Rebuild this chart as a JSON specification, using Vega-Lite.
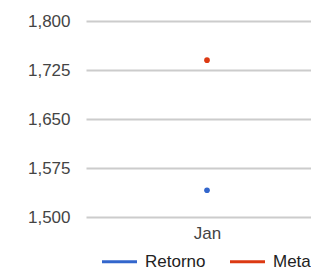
{
  "$schema": "https://vega.github.io/schema/vega-lite/v6.json",
  "autosize": {"type": "none"},
  "padding": {"left": 86, "top": 21, "right": 0, "bottom": 53},
  "width": 225,
  "height": 196,
  "background": "white",
  "config": {
    "view": {"stroke": null},
    "font": "Liberation Sans",
    "axis": {"labelFont": "Liberation Sans", "labelFontSize": 17, "labelColor": "#444444"}
  },
  "data": {
    "values": [
      {"month": "Jan", "series": "Retorno", "value": 1541},
      {"month": "Jan", "series": "Meta", "value": 1740}
    ]
  },
  "mark": {"type": "point", "filled": true, "size": 32, "opacity": 1},
  "encoding": {
    "x": {
      "field": "month", "type": "ordinal",
      "scale": {"type": "point", "range": [0, 242]},
      "axis": {"title": null, "domain": false, "ticks": false, "grid": false, "labelAngle": 0, "labelPadding": 8}
    },
    "y": {
      "field": "value", "type": "quantitative",
      "scale": {"domain": [1500, 1800], "nice": false, "zero": false},
      "axis": {"title": null, "domain": false, "ticks": false, "values": [1500, 1575, 1650, 1725, 1800], "format": ",d", "labelPadding": 16, "gridColor": "#cccccc", "gridWidth": 2, "gridOpacity": 1}
    },
    "color": {
      "field": "series", "type": "nominal",
      "scale": {"domain": ["Retorno", "Meta"], "range": ["#3366cc", "#dc3912"]},
      "legend": {
        "title": null,
        "orient": "none",
        "direction": "horizontal",
        "legendX": 16,
        "legendY": 223,
        "symbolType": "M-1,-0.085H1V0.085H-1Z",
        "symbolStrokeWidth": 0,
        "symbolSize": 1225,
        "labelFontSize": 17,
        "labelFont": "Liberation Sans",
        "labelColor": "#222222",
        "labelOffset": 8,
        "columnPadding": 24,
        "symbolOpacity": 1
      }
    }
  }
}
